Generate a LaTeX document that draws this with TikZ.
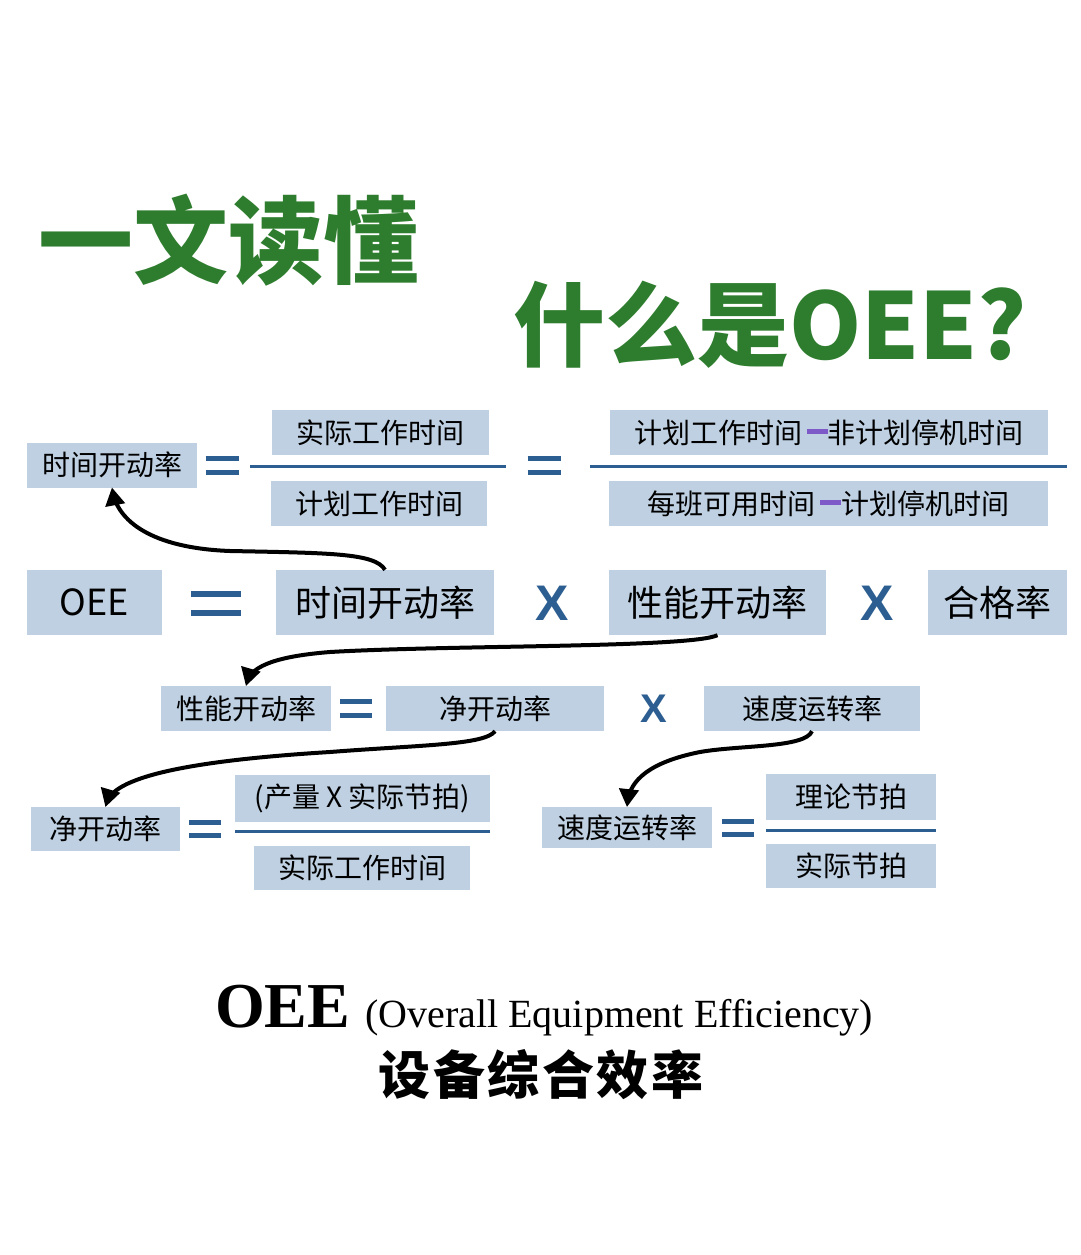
\documentclass[tikz,border=0pt]{standalone}
\usepackage{fontspec}
\usepackage{xcolor}
\usetikzlibrary{arrows, calc}
\newfontfamily\cjk{Noto Sans CJK SC}
\newfontfamily\cjkwide[LetterSpace=5]{Noto Sans CJK SC}
\newfontfamily\arialfont{Liberation Sans}
\newfontfamily\timesfont{Liberation Serif}
\definecolor{boxblue}{RGB}{190,208,226}
\definecolor{eqblue}{RGB}{44,94,145}
\definecolor{titlegreen}{RGB}{46,125,46}
\definecolor{dashpurple}{RGB}{125,90,200}
\newcommand{\eqbars}[3]{\vbox{\hrule width #1 height #2\vskip #3\hrule width #1 height #2}}
\newcommand{\minusbar}{\,\textcolor{dashpurple}{\rule[0.33em]{0.75em}{5pt}}}

\begin{document}
\begin{tikzpicture}[x=1pt, y=-1pt,
	ratebox/.style={fill=boxblue, inner sep=0pt, minimum height=45,
		font=\cjk\fontsize{28}{30}\selectfont},
	bigbox/.style={fill=boxblue, inner sep=0pt, minimum height=65,
		font=\cjk\fontsize{36}{40}\selectfont},
	eqsign/.style={text=eqblue, inner sep=0pt},
	timessign/.style={text=eqblue, inner sep=0pt, font=\arialfont\bfseries\fontsize{50}{54}\selectfont},
	fracline/.style={draw=eqblue, line width=3pt},
	arr/.style={line width=4pt, -triangle 60},
	title/.style={text=titlegreen, inner sep=0pt, font=\cjk\bfseries\fontsize{95}{100}\selectfont}]
	\fill[white] (0,0) rectangle (1080,1255);
	\useasboundingbox (0,0) rectangle (1080,1255);

	% title
	\node[title] (head1) at (228,240) {一文读懂};
	\node[title, font=\cjk\bfseries\fontsize{92}{96}\selectfont] (head2) at (770,325) {什么是OEE?};

	% time rate
	\node[ratebox, minimum width=170] (tr) at (112,465) {时间开动率};
	\node[eqsign] (tre1) at (222,465) {\eqbars{33pt}{5pt}{9pt}};
	\node[ratebox, minimum width=217] (trn) at (380,432.5) {实际工作时间};
	\node[ratebox, minimum width=216] (trd) at (379,503.5) {计划工作时间};
	\draw[fracline] (250,466) -- (506,466);
	\node[eqsign] (tre2) at (544,465) {\eqbars{33pt}{5pt}{9pt}};
	\node[ratebox, minimum width=438] (trn2) at (829,432.5) {计划工作时间\minusbar 非计划停机时间};
	\node[ratebox, minimum width=439] (trd2) at (828.5,503.5) {每班可用时间\minusbar 计划停机时间};
	\draw[fracline] (590,466) -- (1067,466);

	% OEE
	\node[bigbox, minimum width=135] (oee) at (94.5,602.5) {OEE};
	\node[eqsign] (oeq) at (216,603) {\eqbars{50pt}{6pt}{13pt}};
	\node[bigbox, minimum width=218] (ta) at (385,602.5) {时间开动率};
	\node[timessign] (x1) at (552,603) {X};
	\node[bigbox, minimum width=217] (pa) at (717.5,602.5) {性能开动率};
	\node[timessign] (x2) at (877,603) {X};
	\node[bigbox, minimum width=139] (qa) at (997.5,602.5) {合格率};

	% performance rate
	\node[ratebox, minimum width=170] (pr) at (246,708.5) {性能开动率};
	\node[eqsign] (pre) at (356,708.5) {\eqbars{32pt}{5pt}{9pt}};
	\node[ratebox, minimum width=218] (nr) at (495,708.5) {净开动率};
	\node[timessign, font=\arialfont\bfseries\fontsize{40}{44}\selectfont] (x3) at (654,709) {X};
	\node[ratebox, minimum width=216] (sr) at (812,708.5) {速度运转率};

	% net rate
	\node[ratebox, minimum width=149, minimum height=44] (nr2) at (105.5,829) {净开动率};
	\node[eqsign] (nre) at (205,829) {\eqbars{32pt}{5pt}{8pt}};
	\node[ratebox, minimum width=255, minimum height=47] (nrn) at (362.5,798.5) {(产量 X 实际节拍)};
	\draw[fracline] (235,831) -- (490,831);
	\node[ratebox, minimum width=216, minimum height=44] (nrd) at (362,868) {实际工作时间};

	% speed rate
	\node[ratebox, minimum width=170, minimum height=41] (sr2) at (627,827.5) {速度运转率};
	\node[eqsign] (sre) at (738,828) {\eqbars{32pt}{5pt}{8pt}};
	\node[ratebox, minimum width=170, minimum height=46] (srn) at (851,797) {理论节拍};
	\draw[fracline] (766,830) -- (936,830);
	\node[ratebox, minimum width=170, minimum height=44] (srd) at (851,866) {实际节拍};

	% arrows
	\draw[arr] (ta.north) .. controls (375,553) and (330,553) .. (230,551)
		.. controls (150,548) and (118,520) .. (tr.south);
	\draw[arr] (pa.south) .. controls (690,648) and (450,645) .. (330,652)
		.. controls (280,656) and (252,665) .. (pr.north);
	\draw[arr] (nr.south) .. controls (485,745) and (420,745) .. (330,752)
		.. controls (200,760) and (115,775) .. (nr2.north);
	\draw[arr] (sr.south) .. controls (805,748) and (740,745) .. (700,752)
		.. controls (650,762) and (630,780) .. (sr2.north);

	% caption
	\node[anchor=base west, inner sep=0pt, font=\timesfont\bfseries\fontsize{64}{70}\selectfont] (capa) at (215,1027) {OEE};
	\node[anchor=base west, inner sep=0pt, font=\timesfont\fontsize{40}{46}\selectfont] (capb) at (365,1027) {(Overall Equipment Efficiency)};
	\node[inner sep=0pt, font=\cjkwide\bfseries\fontsize{52}{56}\selectfont] (capc) at (541,1075) {设备综合效率};

\end{tikzpicture}
\end{document}
